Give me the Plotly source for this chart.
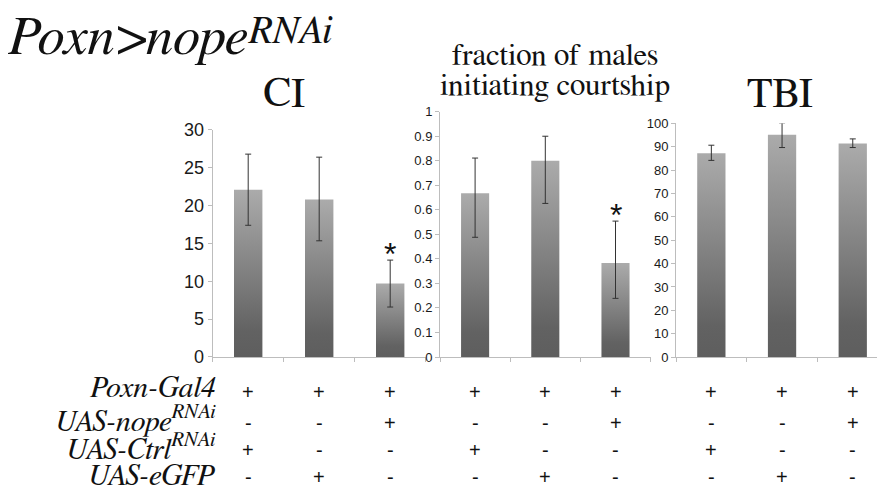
import plotly.graph_objects as go

# ---------------- data ----------------
ci_vals = [22.1, 20.8, 9.7]
ci_err_plus = [4.7, 5.6, 3.1]
ci_err_minus = [4.7, 5.45, 3.1]

frac_vals = [0.668, 0.80, 0.383]
frac_err_plus = [0.143, 0.10, 0.171]
frac_err_minus = [0.18, 0.174, 0.144]

tbi_vals = [87.3, 95.2, 91.4]
tbi_err_plus = [3.4, 5.0, 2.0]
tbi_err_minus = [3.1, 5.5, 1.7]

panel_titles = ["CI", "fraction of males", "initiating courtship", "TBI"]
y_ranges = [[0, 30], [0, 1], [0, 100]]
y_dticks = [5, 0.1, 10]

row_labels = ["Poxn-Gal4", "UAS-nope<sup>RNAi</sup>", "UAS-Ctrl<sup>RNAi</sup>", "UAS-eGFP"]
row_symbols = [
    ["+", "+", "+"],
    ["-", "-", "+"],
    ["+", "-", "-"],
    ["-", "+", "-"],
]
title_main = "Poxn&gt;nope"
title_sup = "RNAi"

# ---------------- layout helpers ----------------
W, H = 877, 492
def px(x):
    return x / W
def py(y):
    return 1 - y / H

SERIF = "FreeSerif, Liberation Serif, serif"
SANS = "Liberation Sans, Arial, sans-serif"
bw = 0.4
dark, light = "#5e5e5e", "#ababab"
axis_col = "#bdbdbd"

panels = [
    dict(vals=ci_vals, ep=ci_err_plus, em=ci_err_minus, dom_x=[px(212.7), px(425.7)],
         dom_y=[py(361.7), py(125)], xr=[-0.5, 2.5], tick_size=18, star=True),
    dict(vals=frac_vals, ep=frac_err_plus, em=frac_err_minus, dom_x=[px(440), px(650.6)],
         dom_y=[py(361.7), py(106)], xr=[-0.5, 2.5], tick_size=13, star=True),
    dict(vals=tbi_vals, ep=tbi_err_plus, em=tbi_err_minus, dom_x=[px(676), 1.0],
         dom_y=[py(361.7), py(118.3)], xr=[-0.5, -0.5 + (877 - 676) / 70.7], tick_size=13, star=False),
]

fig = go.Figure()
annotations = []
sym_y = [398, 430, 459, 487]

for k, p in enumerate(panels):
    xa = "x" if k == 0 else f"x{k+1}"
    ya = "y" if k == 0 else f"y{k+1}"
    for i, v in enumerate(p["vals"]):
        fig.add_trace(go.Scatter(
            x=[i - bw / 2, i + bw / 2, i + bw / 2, i - bw / 2],
            y=[0, 0, v, v],
            fill="toself", mode="none",
            fillgradient=dict(type="vertical", colorscale=[[0, dark], [0.15, "#626262"], [1, light]]),
            xaxis=xa, yaxis=ya, showlegend=False, hoverinfo="skip",
        ))
    fig.add_trace(go.Scatter(
        x=list(range(len(p["vals"]))), y=p["vals"], mode="markers",
        marker=dict(size=1, opacity=0),
        error_y=dict(type="data", symmetric=False, array=p["ep"], arrayminus=p["em"],
                     color="#333333", thickness=1, width=3),
        xaxis=xa, yaxis=ya, showlegend=False, hoverinfo="skip",
    ))
    sfx = "" if k == 0 else str(k + 1)
    fig.update_layout(**{
        f"xaxis{sfx}": dict(domain=p["dom_x"], range=p["xr"], anchor=ya,
                            tickvals=[-0.5, 0.5, 1.5, 2.5], showticklabels=False,
                            ticks="outside", ticklen=4, tickcolor=axis_col,
                            showline=True, linecolor=axis_col, linewidth=1,
                            showgrid=False, zeroline=False, fixedrange=True),
        f"yaxis{sfx}": dict(domain=p["dom_y"], range=y_ranges[k], anchor=xa,
                            dtick=y_dticks[k], ticks="outside", ticklen=4, tickcolor=axis_col,
                            showline=True, linecolor=axis_col, linewidth=1,
                            showgrid=False, zeroline=False,
                            tickfont=dict(family=SANS, size=p["tick_size"], color="#1a1a1a")),
    })
    if p["star"]:
        annotations.append(dict(x=2, y=p["vals"][2] + p["ep"][2], xref=xa, yref=ya,
                                text="*", showarrow=False, yanchor="bottom", yshift=-14,
                                font=dict(family=SANS, size=32, color="#111")))
    # genotype table
    for r, syms in enumerate(row_symbols):
        for i, s in enumerate(syms):
            annotations.append(dict(x=i, y=py(sym_y[r]), xref=xa, yref="paper",
                                    text=s, showarrow=False, yanchor="middle",
                                    font=dict(family=SANS, size=20, color="#111")))

row_y = [394, 426, 456, 486]
for r, lab in enumerate(row_labels):
    annotations.append(dict(x=px(218), y=py(row_y[r]), xref="paper", yref="paper",
                            text="<i>" + lab + "</i>", showarrow=False, xanchor="right", yanchor="middle",
                            font=dict(family=SERIF, size=30, color="#111")))

# titles
annotations.append(dict(x=px(6), y=py(-2), xref="paper", yref="paper", text="<i>" + title_main + "</i>",
                        showarrow=False, xanchor="left", yanchor="top",
                        font=dict(family=SERIF, size=55, color="#111")))
annotations.append(dict(x=px(246), y=py(-1), xref="paper", yref="paper", text="<i>" + title_sup + "</i>",
                        showarrow=False, xanchor="left", yanchor="top",
                        font=dict(family=SERIF, size=40, color="#111")))
annotations.append(dict(x=px(284), y=py(110), xref="paper", yref="paper", text=panel_titles[0],
                        showarrow=False, xanchor="center", yanchor="bottom",
                        font=dict(family=SERIF, size=42, color="#111")))
annotations.append(dict(x=px(555), y=py(66), xref="paper", yref="paper", text=panel_titles[1],
                        showarrow=False, xanchor="center", yanchor="bottom",
                        font=dict(family=SERIF, size=31, color="#111")))
annotations.append(dict(x=px(555), y=py(98), xref="paper", yref="paper", text=panel_titles[2],
                        showarrow=False, xanchor="center", yanchor="bottom",
                        font=dict(family=SERIF, size=31, color="#111")))
annotations.append(dict(x=px(780), y=py(110), xref="paper", yref="paper", text=panel_titles[3],
                        showarrow=False, xanchor="center", yanchor="bottom",
                        font=dict(family=SERIF, size=42, color="#111")))

fig.update_layout(
    width=W, height=H, margin=dict(l=0, r=0, t=0, b=0),
    paper_bgcolor="white", plot_bgcolor="white",
    annotations=annotations, showlegend=False,
)

fig.write_html("out.html", config={"displayModeBar": False})
